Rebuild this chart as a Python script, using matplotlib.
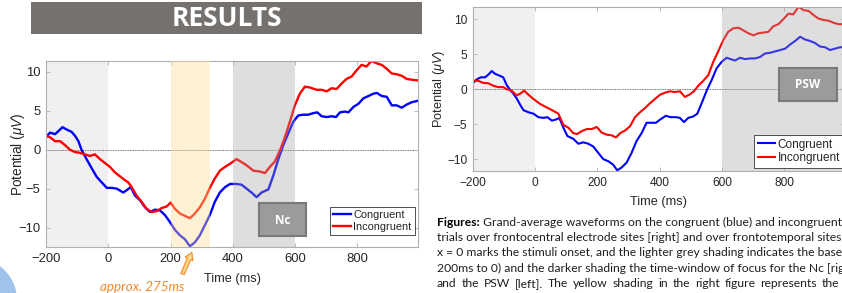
import numpy as np
import matplotlib
matplotlib.use("Agg")
import matplotlib.pyplot as plt
from matplotlib.patches import Rectangle, Circle, FancyArrow

plt.rcParams['mathtext.fontset'] = 'custom'
plt.rcParams['mathtext.it'] = 'Liberation Sans:italic'
plt.rcParams['mathtext.rm'] = 'Liberation Sans'

# ---------------- data ----------------
# left panel (frontotemporal)
left_blue_t = [-200,-187,-171,-160,-147,-134,-118,-107,-96,-86,-70,-53,-37,-21,-5,11,27,48,59,72,
               86,102,118,134,150,166,182,198,214,230,246,262,278,294,310,326,342,358,375,391,
               412,428,444,460,476,492,514,530,546,562,578,594,610,626,642,658,671,685,701,717,
               731,744,760,771,787,803,819,835,851,862,878,894,910,926,942,958,974,995]
left_blue_v = [1.6,2.2,2.0,2.4,2.9,2.6,2.3,1.8,1.1,0,-1.2,-2.4,-3.5,-4.2,-4.9,-4.9,-5.0,-5.5,-5.2,-4.8,
               -5.9,-6.5,-7.4,-8.0,-7.7,-7.8,-8.4,-9.3,-10.3,-11.0,-11.5,-12.4,-11.9,-11.0,-9.7,-8.4,-6.7,-5.5,-4.8,-4.4,
               -4.4,-4.5,-5.0,-5.5,-6.1,-5.5,-5.1,-3.3,-1.2,0.6,2.1,3.6,4.4,4.5,4.5,4.7,4.8,4.3,4.2,4.3,
               4.2,4.8,4.9,4.8,5.5,5.9,6.6,6.9,7.2,7.3,6.9,6.8,5.7,5.7,5.4,5.8,6.1,6.3]
left_red_t = [-200,-187,-171,-155,-139,-123,-107,-91,-75,-59,-43,-27,-11,5,21,37,53,64,75,91,
              107,123,139,155,171,187,200,214,230,246,262,278,294,310,326,342,358,375,391,412,
              428,444,466,487,503,519,535,551,567,583,599,615,631,647,669,685,701,717,733,749,
              765,781,797,813,829,845,862,878,894,910,926,942,958,974,995]
left_red_v = [1.8,1.6,1.1,1.1,0.6,0,-0.3,-0.4,-0.6,-0.8,-0.6,-1.2,-1.7,-2.2,-2.9,-3.4,-3.9,-4.2,-4.8,-5.9,
              -6.7,-7.6,-8.0,-7.9,-7.5,-7.3,-6.8,-7.6,-8.2,-8.5,-8.8,-8.2,-7.4,-6.3,-4.9,-3.7,-2.7,-2.2,-1.8,-1.2,
              -1.6,-2.0,-2.7,-2.8,-3.0,-2.2,-1.5,-0.1,1.6,3.6,5.7,7.2,8.1,8.0,7.7,7.7,7.5,7.9,7.8,8.5,
              9.1,9.4,10.2,10.9,10.7,11.4,11.1,10.9,10.4,9.8,9.7,9.5,9.1,9.0,8.9]

# right panel (frontocentral)
right_blue_t = [-200,-187,-174,-160,-147,-139,-128,-112,-102,-91,-80,-70,-59,-48,-37,-21,-5,11,27,40,
                54,70,78,91,104,123,139,155,171,187,203,219,235,251,264,278,294,310,326,342,358,
                374,388,403,420,435,452,465,478,492,508,521,535,551,567,583,599,615,628,642,658,
                674,690,706,722,738,754,770,787,803,819,835,851,867,883,899,915,931,947,963,979,995]
right_blue_v = [0.85,1.4,1.7,1.7,2.2,2.6,2.2,1.9,1.7,0.6,-0.1,-0.6,-1.3,-2.2,-3.0,-3.3,-3.5,-4.0,-4.1,-4.0,
                -4.5,-4.3,-4.1,-5.5,-6.7,-7.1,-7.8,-7.6,-7.8,-8.2,-9.1,-10.0,-10.3,-10.8,-11.6,-11.2,-10.5,-9.1,-7.4,-6.3,-4.8,
                -4.8,-4.8,-4.3,-3.8,-4.0,-4.0,-4.1,-4.7,-4.1,-3.9,-3.5,-2.0,-0.2,1.3,3.0,3.9,4.5,4.3,4.1,4.5,
                4.3,4.4,4.4,4.6,5.1,5.2,5.4,5.6,5.8,6.4,6.9,7.5,7.1,6.9,6.6,6.1,6.0,5.6,5.8,6.0,6.0]
right_red_t = [-200,-182,-166,-150,-134,-118,-102,-91,-75,-59,-46,-35,-21,-5,16,37,59,75,91,107,
               123,136,150,166,182,198,214,230,246,260,273,289,305,321,337,353,367,
               385,401,417,433,449,465,481,495,510,524,540,556,572,588,604,620,636,653,669,685,
               701,717,733,749,765,781,797,813,829,846,862,878,894,910,926,942,958,974,995]
right_red_v = [1.2,1.2,0.9,0.85,0.5,0.3,0.3,0,-0.2,-0.9,-0.6,-0.2,-0.8,-1.4,-2.1,-2.6,-3.1,-3.5,-5.1,-5.5,
               -6.3,-6.4,-6.0,-5.7,-5.7,-5.4,-6.2,-6.5,-6.6,-6.9,-6.3,-5.9,-5.3,-4.0,-3.3,-2.7,-2.1,
               -1.4,-0.8,-0.5,-0.3,-0.4,-0.3,-1.1,-0.8,-0.3,0.5,1.2,2.0,3.9,5.4,7.0,8.2,8.7,8.8,8.4,8.0,
               7.7,8.0,8.1,8.2,9.0,9.3,10.0,10.8,10.7,11.8,11.3,11.2,10.6,10.1,9.9,9.8,9.5,9.3,9.3]

series_labels = ["Congruent", "Incongruent"]
x_ticks = [-200, 0, 200, 400, 600, 800]
y_ticks = [-10, -5, 0, 5, 10]
baseline_win = (-200, 0)
yellow_win = (200, 325)
nc_win = (400, 600)
psw_win = (600, 995)

caption_head = "Figures:"
caption_lines = [
    "Grand-average waveforms on the congruent (blue) and incongruent (red)",
    "trials over frontocentral electrode sites [right] and over frontotemporal sites [left].",
    "x = 0 marks the stimuli onset, and the lighter grey shading indicates the baseline (-",
    "200ms to 0) and the darker shading the time-window of focus for the Nc [right]",
    "and the PSW [left]. The yellow shading in the right figure represents the",
]

# ---------------- figure ----------------
W, H = 842, 293
fig = plt.figure(figsize=(W / 100, H / 100), dpi=100)

BLUE = '#0000ff'
RED = '#ff0000'
SPINE = '#b0b0b0'
TXT = '#262626'


def px_axes(x0, y0, x1, y1):
    return fig.add_axes([x0 / W, 1 - y1 / H, (x1 - x0) / W, (y1 - y0) / H])


def style(ax, tick_fs):
    ax.set_xlim(-200, 995)
    ax.set_xticks(x_ticks)
    ax.set_yticks(y_ticks)
    for s in ax.spines.values():
        s.set_color(SPINE)
        s.set_linewidth(0.8)
    ax.tick_params(direction='in', length=3, width=0.6, color=SPINE, labelcolor=TXT,
                   labelsize=tick_fs, top=True, right=True, pad=4)
    for lab in ax.get_xticklabels() + ax.get_yticklabels():
        lab.set_family('Liberation Sans')


def panel(ax, bt, bv, rt, rv, dark_win, yellow, lw):
    ax.axvspan(*baseline_win, color='#f0f0f0', lw=0, zorder=0)
    ax.axhline(0, color='#444444', lw=0.6, ls=(0, (1, 1)), zorder=1)
    ax.plot(bt, bv, color=BLUE, lw=lw, zorder=2, label=series_labels[0])
    ax.plot(rt, rv, color=RED, lw=lw, zorder=2, label=series_labels[1])
    if yellow is not None:
        ax.axvspan(*yellow, color=(1.0, 224 / 255, 145 / 255), alpha=0.39, lw=0, zorder=3)
    ax.axvspan(*dark_win, color=(0.63, 0.63, 0.63), alpha=0.35, lw=0, zorder=3)


def legend(ax, x, y, fs, hl):
    leg = ax.legend(loc='upper left', bbox_to_anchor=(x / W, 1 - y / H), bbox_transform=fig.transFigure,
                    borderaxespad=0, fancybox=False, edgecolor='#333333', framealpha=1,
                    prop={'family': 'Liberation Sans', 'size': fs}, handlelength=hl, handletextpad=0.2,
                    labelspacing=0.15, borderpad=0.3)
    leg.get_frame().set_linewidth(0.6)
    for t in leg.get_texts():
        t.set_color(TXT)


# left panel
axL = px_axes(46, 61, 418.2, 247)
style(axL, 9.4)
panel(axL, left_blue_t, left_blue_v, left_red_t, left_red_v, nc_win, yellow_win, 1.7)
axL.set_ylim(-12.5, 11.4)
axL.set_xlabel('Time (ms)', fontsize=9.2, family='Liberation Sans', color=TXT, labelpad=6)
axL.set_ylabel('Potential ($\\mu V$)', fontsize=9.8, family='Liberation Sans', color=TXT)
axL.yaxis.set_label_coords(-0.052, 0.5)
legend(axL, 330, 207, 7.9, 1.6)

# right panel
axR = px_axes(472.7, 6.7, 845, 171)
style(axR, 8.6)
panel(axR, right_blue_t, right_blue_v, right_red_t, right_red_v, psw_win, None, 1.5)
axR.set_ylim(-11.7, 11.8)
axR.set_xlabel('Time (ms)', fontsize=9.2, family='Liberation Sans', color=TXT, labelpad=5)
axR.set_ylabel('Potential ($\\mu V$)', fontsize=9.2, family='Liberation Sans', color=TXT)
axR.yaxis.set_label_coords(-0.069, 0.5)
legend(axR, 754, 135, 8.5, 1.5)

# overlay in pixel coordinates for poster decorations
ov = fig.add_axes([0, 0, 1, 1], zorder=10)
ov.set_xlim(0, W)
ov.set_ylim(H, 0)
ov.set_axis_off()
ov.patch.set_visible(False)

# banner
ov.add_patch(Rectangle((31, 2), 391, 32, color='#75716f', lw=0))
ov.text(226.5, 19, 'RESULTS', color='white', fontsize=19, fontweight='bold', family='Open Sans',
        ha='center', va='center')

# Nc / PSW boxes
ov.add_patch(Rectangle((259, 203), 47, 33, fc='#9b9b9b', ec='#7a7a7a', lw=1.5))
ov.text(282.5, 220, 'Nc', color='white', fontsize=8.5, fontweight='bold', family='Open Sans',
        ha='center', va='center')
ov.add_patch(Rectangle((779, 68), 58, 33, fc='#9b9b9b', ec='#7a7a7a', lw=1.5))
ov.text(808, 85, 'PSW', color='white', fontsize=8.5, fontweight='bold', family='Open Sans',
        ha='center', va='center')

# arrow + annotation
ov.add_patch(FancyArrow(182.5, 274, 9.3, -21.5, width=3.6, head_width=8.5, head_length=7,
                        length_includes_head=True, fc='#fdd88f', ec='#f29b3c', lw=1.0))
ov.text(100, 287, 'approx. 275ms', color='#ef8a2d', fontsize=9.6, style='italic', family='Lato',
        ha='left', va='center')

# blue circle decoration
ov.add_patch(Circle((-25, 300), 42, color='#9fc3eb', lw=0))

# caption
CFS = 8.7
CX = 437
y0 = 226
fig.canvas.draw()
renderer = fig.canvas.get_renderer()
head = ov.text(CX, y0, caption_head, fontsize=CFS, fontweight='bold', family='Lato', color='black',
               ha='left', va='baseline')
hw = head.get_window_extent(renderer).width
ov.text(CX + hw + 3.5, y0, caption_lines[0], fontsize=CFS, family='Lato', color='#1e1e1e',
        ha='left', va='baseline')
for i in range(1, 4):
    ov.text(CX, y0 + 15.2 * i, caption_lines[i], fontsize=CFS, family='Lato', color='#1e1e1e',
            ha='left', va='baseline')
# last line is justified in the reference (spread to the right edge)
words = caption_lines[4].split(' ')
arts = [ov.text(0, y0 + 15.2 * 4, w, fontsize=CFS, family='Lato', color='#1e1e1e',
                ha='left', va='baseline') for w in words]
widths = [a.get_window_extent(renderer).width for a in arts]
target_end = 839
gap = (target_end - CX - sum(widths)) / (len(words) - 1)
x = CX
for a, w in zip(arts, widths):
    a.set_x(x)
    x += w + gap

fig.savefig('out.png', dpi=100)
